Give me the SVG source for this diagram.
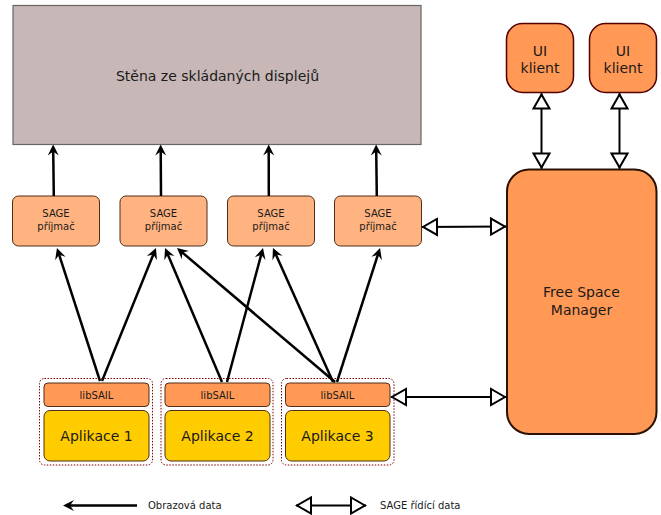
<svg xmlns="http://www.w3.org/2000/svg" width="661" height="515" viewBox="0 0 661 515">
<style>
text{font-family:"DejaVu Sans","Liberation Sans",sans-serif;fill:#1a1a1a;text-anchor:middle}
.rcv{fill:#ffb380;stroke:#502d16;stroke-width:1}
.lib{fill:#ff9955;stroke:#502d16;stroke-width:1}
.app{fill:#ffcc00;stroke:#502d16;stroke-width:1}
.grp{fill:none;stroke:#800000;stroke-width:1;stroke-dasharray:1.5 1.5}
.ui{fill:#ff9955;stroke:#550000;stroke-width:1.5}
.fa{fill:none;stroke:#000;stroke-width:2.5;marker-end:url(#ah)}
.da{fill:none;stroke:#000;stroke-width:2;marker-start:url(#tri);marker-end:url(#tri)}
</style>
<defs>
<marker id="ah" markerUnits="userSpaceOnUse" viewBox="-12 -6 14 12" refX="-5" refY="0" markerWidth="14" markerHeight="12" orient="auto" overflow="visible">
<path d="M0,0 L-11,-5.5 L-7,0 L-11,5.5 Z" fill="#000"/>
</marker>
<marker id="tri" markerUnits="userSpaceOnUse" viewBox="-17 -10 18 20" refX="0" refY="0" markerWidth="18" markerHeight="20" orient="auto-start-reverse" overflow="visible">
<path d="M-1,0 L-15,-8 L-15,8 Z" fill="#fff" stroke="#000" stroke-width="2"/>
</marker>
</defs>
<g id="wall">
<rect x="13" y="5.5" width="408" height="139" fill="#c8b7b7" stroke="#666" stroke-width="1.2"/>
<text x="217.5" y="80.5" font-size="14">Stěna ze skládaných displejů</text>
</g>
<g id="rcv1"><rect class="rcv" x="12.5" y="196" width="87" height="50" rx="6"/><text x="56" y="217" font-size="10">SAGE</text><text x="56" y="229.5" font-size="10">příjmač</text></g>
<g id="rcv2"><rect class="rcv" x="120" y="196" width="87" height="50" rx="6"/><text x="163.5" y="217" font-size="10">SAGE</text><text x="163.5" y="229.5" font-size="10">příjmač</text></g>
<g id="rcv3"><rect class="rcv" x="227.5" y="196" width="87" height="50" rx="6"/><text x="271" y="217" font-size="10">SAGE</text><text x="271" y="229.5" font-size="10">příjmač</text></g>
<g id="rcv4"><rect class="rcv" x="334.5" y="196" width="87" height="50" rx="6"/><text x="378" y="217" font-size="10">SAGE</text><text x="378" y="229.5" font-size="10">příjmač</text></g>
<g id="app1">
<rect class="grp" x="39.5" y="378.5" width="113" height="86.5" rx="5"/>
<rect class="lib" x="44" y="383" width="105" height="23.5" rx="4"/><text x="96.5" y="398.5" font-size="10">libSAIL</text>
<rect class="app" x="44" y="410.5" width="105" height="50.5" rx="6"/><text x="96.5" y="440.5" font-size="14">Aplikace 1</text>
</g>
<g id="app2">
<rect class="grp" x="161" y="378.5" width="112" height="86.5" rx="5"/>
<rect class="lib" x="165" y="383" width="105" height="23.5" rx="4"/><text x="217.5" y="398.5" font-size="10">libSAIL</text>
<rect class="app" x="165" y="410.5" width="105" height="50.5" rx="6"/><text x="217.5" y="440.5" font-size="14">Aplikace 2</text>
</g>
<g id="app3">
<rect class="grp" x="281.5" y="378.5" width="112.5" height="86.5" rx="5"/>
<rect class="lib" x="285.5" y="383" width="104.5" height="23.5" rx="4"/><text x="337.5" y="398.5" font-size="10">libSAIL</text>
<rect class="app" x="285.5" y="410.5" width="104.5" height="50.5" rx="6"/><text x="337.5" y="440.5" font-size="14">Aplikace 3</text>
</g>
<g id="ui1"><rect class="ui" x="506.5" y="23.5" width="67" height="69" rx="16"/><text x="540" y="56" font-size="14">UI</text><text x="540" y="72.5" font-size="14">klient</text></g>
<g id="ui2"><rect class="ui" x="589.5" y="23.5" width="67" height="69" rx="16"/><text x="623" y="56" font-size="14">UI</text><text x="623" y="72.5" font-size="14">klient</text></g>
<g id="fsm"><rect x="507" y="169.5" width="149.5" height="264.5" rx="22" fill="#ff9955" stroke="#2b1100" stroke-width="2"/><text x="581.5" y="297" font-size="14">Free Space</text><text x="581.5" y="315" font-size="14">Manager</text></g>
<g id="connectors">
<path class="fa" d="M53.8,196 L53.2,149.5"/>
<path class="fa" d="M161,196 L160.7,149.5"/>
<path class="fa" d="M268.8,196 L268.7,149.5"/>
<path class="fa" d="M376.8,196 L376.2,149.5"/>
<path class="fa" d="M100,381 L58.5,252.8"/>
<path class="fa" d="M102,381 L154.1,252.6"/>
<path class="fa" d="M222,382 L167,252.6"/>
<path class="fa" d="M227,382 L261.7,252.8"/>
<path class="fa" d="M335,382 L180.8,251.2"/>
<path class="fa" d="M333,382 L275,252.6"/>
<path class="fa" d="M337,382 L378.5,252.8"/>
<path class="da" d="M422,227 L506,226.5"/>
<path class="da" d="M391,397 L506,397"/>
<path class="da" d="M541.5,93.5 L541.5,168.5"/>
<path class="da" d="M619.5,93.5 L619.5,168.5"/>
</g>
<g id="legend">
<path class="fa" d="M137,505.5 L68,505.5"/>
<text x="148" y="509" font-size="10" style="text-anchor:start">Obrazová data</text>
<path class="da" d="M296,505.5 L366,505.5"/>
<text x="380" y="509" font-size="10" style="text-anchor:start">SAGE řídící data</text>
</g>
</svg>
